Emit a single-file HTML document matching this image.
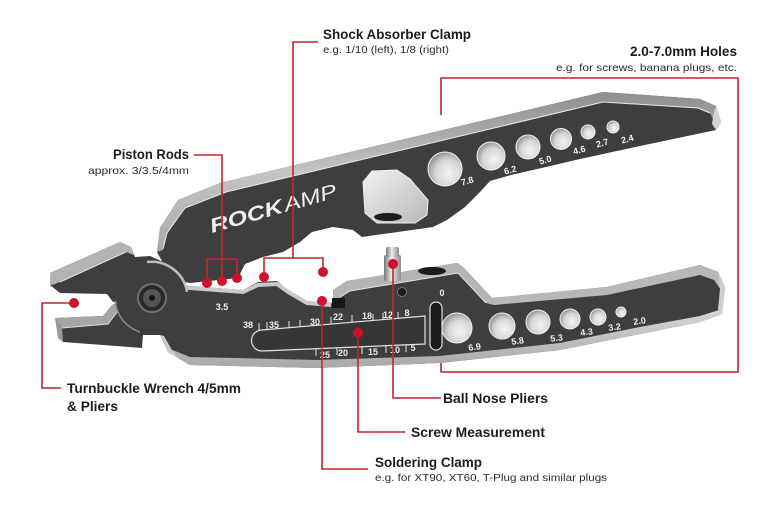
<!DOCTYPE html>
<html><head><meta charset="utf-8"><style>
html,body{margin:0;padding:0;background:#fff;}
svg{display:block;}
.h{font-family:"Liberation Sans",Arial,sans-serif;font-weight:bold;font-size:13.5px;fill:#1c1c1c;}
.s{font-family:"Liberation Sans",Arial,sans-serif;font-size:10.5px;fill:#2a2a2a;}
.t{font-family:"Liberation Sans",Arial,sans-serif;font-weight:bold;font-size:9px;fill:#eeeeee;}
</style></head><body>
<svg width="768" height="516" viewBox="0 0 768 516" xmlns="http://www.w3.org/2000/svg">
<defs>
 <linearGradient id="bevt" x1="0" y1="0" x2="0" y2="1"><stop offset="0" stop-color="#8e8e8e"/><stop offset="0.5" stop-color="#c4c4c4"/><stop offset="1" stop-color="#a9a9a9"/></linearGradient>
 <linearGradient id="bevb" x1="0" y1="0" x2="0" y2="1"><stop offset="0" stop-color="#d8d8d8"/><stop offset="1" stop-color="#a8a8a8"/></linearGradient>
 <radialGradient id="hole" cx="0.6" cy="0.62" r="0.65"><stop offset="0" stop-color="#f4f4f4"/><stop offset="0.6" stop-color="#d6d6d6"/><stop offset="1" stop-color="#8e8e8e"/></radialGradient>
 <linearGradient id="peg" x1="0" y1="0" x2="1" y2="0"><stop offset="0" stop-color="#777"/><stop offset="0.45" stop-color="#ececec"/><stop offset="1" stop-color="#8a8a8a"/></linearGradient>
 <linearGradient id="sq" x1="0" y1="0" x2="1" y2="1"><stop offset="0" stop-color="#f2f2f2"/><stop offset="1" stop-color="#b8b8b8"/></linearGradient>
</defs>
<rect width="768" height="516" fill="#fff"/>

<!-- LOWER PIECE -->
<path d="M55,318 L103,316 L112,305 L125,300 L150,290 L170,283 L190,286 L243,290 L258,282 L277,281 L288,290 L307,301 L333,303 L333,290 L347,281 L457,263 L463,267 L492,298 L607,287 L700,265 L718,272 L725,287 L722,314 L700,322 L640,334 L560,350 L440,363 L317,368 L190,365 L178,358 L168,352 L160,335 L143,335 L142,348 L63,342 Z" fill="#3e3e40"/>
<!-- bottom bevel -->
<path d="M170,349 L190,357 L317,360 L440,356 L560,343 L640,327 L700,316 L722,309 L722,314 L700,322 L640,334 L560,350 L440,363 L317,368 L190,365 L178,358 Z" fill="url(#bevb)"/>
<path d="M160,335 L168,352 L178,358 L172,350 L164,336 Z" fill="#c9c9c9"/>
<!-- lower handle top bevel -->
<path d="M492,298 L607,287 L700,265 L718,272 L725,287 L721,290 L714,280 L700,275 L607,295 L494,305 Z" fill="#b8b8b8"/>
<path d="M718,272 L725,287 L722,314 L718,309 L720,289 Z" fill="#cfcfcf"/>
<!-- block top bevel and step face -->
<path d="M333,290 L347,281 L457,263 L463,267 L492,298 L494,305 L486,303 L458,273 L350,291 L340,298 L333,298 Z" fill="#b4b4b4"/>
<polyline points="340,297 350,291 458,273 486,303" fill="none" stroke="#e4e4e4" stroke-width="1"/>
<rect x="332" y="298" width="13" height="10" fill="#161616"/>
<!-- lower jaw top bevel -->
<path d="M55,318 L103,316 L112,305 L121,302 L118,311 L108,324 L62,328 Z" fill="#a6a6a6"/>
<path d="M55,318 L62,328 L63,342 L58,338 Z" fill="#9a9a9a"/>
<polyline points="62,328 108,324 118,311" fill="none" stroke="#dcdcdc" stroke-width="1"/>
<polyline points="172,286 190,288 243,292 258,285 277,284 288,292 307,303 331,305" fill="none" stroke="#c9c9c9" stroke-width="4"/>

<!-- UPPER ARM -->
<path d="M157,252 L160,228 L178,200 L220,183 L603,92 L700,99 L716,106 L721,122 L716,130 L640,146 L580,159 L546,167 L511,175 L490,181 L480,192 L465,207 L447,220 L433,227 L362,237 L353,230 L333,227 L312,232 L300,242 L283,252 L263,257 L245,264 L238,278 L190,283 L172,280 Z" fill="#3e3e40"/>
<path d="M160,228 L178,200 L220,183 L603,92 L700,99 L716,106 L721,122 L716,125 L710,113 L698,108 L603,102 L226,192 L185,208 L167,233 L163,250 L157,252 Z" fill="url(#bevt)"/>
<polyline points="163,249 167,233 185,208 226,192 603,102 698,108 710,113" fill="none" stroke="#e8e8e8" stroke-width="1"/>
<path d="M716,106 L721,122 L716,130 L712,124 L714,112 Z" fill="#d2d2d2"/>

<!-- UPPER JAW + DISC -->
<path d="M50,273 L120,242 L131,247 L135,257 L150,256 L170,265 L180,290 L150,300 L113,302 L107,294 L60,293 L50,285 Z" fill="#3e3e40"/>
<path d="M50,273 L120,242 L131,247 L134,255 L126,252 L60,282 L52,285 L50,285 Z" fill="#b3b3b3"/>
<polyline points="60,282 126,252" fill="none" stroke="#e2e2e2" stroke-width="1"/>
<circle cx="152" cy="298" r="36" fill="#3e3e40"/>
<path d="M147,262 A36,36 0 0 1 187,292" fill="none" stroke="#bdbdbd" stroke-width="2.5"/>
<path d="M115,301 A36,36 0 0 0 140,332" fill="none" stroke="#8a8a8a" stroke-width="1.5"/>
<circle cx="152" cy="298" r="14" fill="#2a2a2a" stroke="#707070" stroke-width="2"/>
<circle cx="152" cy="298" r="9" fill="#555557"/>
<circle cx="152" cy="298" r="3" fill="#1a1a1a"/>

<!-- square hole -->
<path d="M363,182 L372,171 L397,170 L410,179 L428,200 L427,215 L415,223 L377,223 L365,213 Z" fill="url(#sq)" stroke="#f0f0f0" stroke-width="1"/>
<ellipse cx="388" cy="217" rx="14" ry="4" fill="#1c1c1c"/>

<!-- upper holes -->
<g fill="url(#hole)" stroke="#f2f2f2" stroke-width="1">
<circle cx="445" cy="169" r="17"/><circle cx="491" cy="156" r="14"/><circle cx="528" cy="147" r="12"/>
<circle cx="561" cy="139" r="10.5"/><circle cx="588" cy="132" r="7"/><circle cx="613" cy="127" r="6"/>
</g>
<g class="t" text-anchor="middle">
<text transform="translate(468,184) rotate(-15)">7.8</text>
<text transform="translate(511,173) rotate(-15)">6.2</text>
<text transform="translate(546,163) rotate(-15)">5.0</text>
<text transform="translate(580,153) rotate(-15)">4.6</text>
<text transform="translate(603,146) rotate(-15)">2.7</text>
<text transform="translate(628,142) rotate(-15)">2.4</text>
</g>

<!-- lower holes -->
<g fill="url(#hole)" stroke="#f2f2f2" stroke-width="1">
<circle cx="457" cy="328" r="15"/><circle cx="502" cy="326" r="13"/><circle cx="538" cy="322" r="12"/>
<circle cx="570" cy="319" r="10"/><circle cx="598" cy="317" r="8"/><circle cx="621" cy="312" r="5"/>
</g>
<g class="t" text-anchor="middle">
<text transform="translate(475,350) rotate(-8)">6.9</text>
<text transform="translate(518,344) rotate(-8)">5.8</text>
<text transform="translate(557,341) rotate(-8)">5.3</text>
<text transform="translate(587,335) rotate(-8)">4.3</text>
<text transform="translate(615,330) rotate(-8)">3.2</text>
<text transform="translate(640,324) rotate(-8)">2.0</text>
<text x="442" y="296">0</text>
<text x="222" y="310">3.5</text>
</g>

<!-- scale slot -->
<path d="M262,330 L425,316 L425,344 L262,351 A10.5,10.5 0 0 1 262,330 Z" fill="#363638" stroke="#e2e2e2" stroke-width="1.2"/>
<rect x="430" y="302" width="12" height="48" rx="6" fill="#1a1a1a" stroke="#e2e2e2" stroke-width="1.2"/>
<g stroke="#e6e6e6" stroke-width="1">
<line x1="259" y1="330" x2="259" y2="323"/><line x1="267" y1="329" x2="267" y2="322"/>
<line x1="289" y1="328" x2="289" y2="321"/><line x1="300" y1="327" x2="300" y2="320"/>
<line x1="331" y1="324" x2="331" y2="317"/><line x1="352" y1="322" x2="352" y2="315"/>
<line x1="373" y1="321" x2="373" y2="314"/><line x1="383" y1="320" x2="383" y2="313"/>
<line x1="398" y1="319" x2="398" y2="312"/>
<line x1="316" y1="349" x2="316" y2="356"/><line x1="337" y1="348" x2="337" y2="355"/>
<line x1="362" y1="347" x2="362" y2="354"/><line x1="386" y1="346" x2="386" y2="353"/>
<line x1="406" y1="345" x2="406" y2="352"/>
</g>
<g class="t" text-anchor="middle">
<text x="248" y="328">38</text><text x="274" y="328">35</text><text x="315" y="325">30</text>
<text x="338" y="320">22</text><text x="367" y="319">18</text><text x="388" y="318">12</text><text x="407" y="316">8</text>
<text x="325" y="358">25</text><text x="343" y="356">20</text><text x="373" y="355">15</text>
<text x="395" y="353">10</text><text x="413" y="351">5</text>
</g>

<!-- block details -->
<ellipse cx="432" cy="271" rx="14" ry="4" fill="#1a1a1a"/>
<circle cx="402" cy="292" r="4.5" fill="#1a1a1a" stroke="#777" stroke-width="1"/>
<rect x="384" y="255" width="17" height="26" rx="2" fill="url(#peg)"/>
<rect x="386" y="247" width="13" height="10" rx="2" fill="url(#peg)"/>

<!-- ROCKAMP logo -->
<g transform="rotate(-16 212 233)">
<text x="212" y="233" font-family="Liberation Sans, Arial, sans-serif" font-weight="bold" font-style="italic" font-size="20" fill="#eeeeee" textLength="75" lengthAdjust="spacingAndGlyphs">ROCK</text>
<text x="289" y="233" font-family="Liberation Sans, Arial, sans-serif" font-style="italic" font-size="20" fill="#eeeeee" textLength="54" lengthAdjust="spacingAndGlyphs">AMP</text>
</g>

<!-- RED CONNECTORS -->
<g fill="none" stroke="#c0262d" stroke-width="1.6">
<path d="M318,42 H293 V258"/>
<path d="M264,277 V258 H323 V272"/>
<path d="M194,155 H222 V281"/>
<path d="M207,283 V259 H237 V278"/>
<path d="M441,115 V78 H738 V372 H441 V363"/>
<path d="M74,303 H42 V388 H61"/>
<path d="M393,264 V398 H441"/>
<path d="M358,333 V432 H405"/>
<path d="M322,301 V469 H368"/>
</g>
<g fill="#d0112b">
<circle cx="264" cy="277" r="5"/><circle cx="323" cy="272" r="5"/>
<circle cx="207" cy="283" r="5"/><circle cx="222" cy="281" r="5"/><circle cx="237" cy="278" r="5"/>
<circle cx="74" cy="303" r="5"/><circle cx="393" cy="264" r="5"/>
<circle cx="358" cy="333" r="5"/><circle cx="322" cy="301" r="5"/>
</g>

<!-- LABELS -->
<text class="h" x="323" y="39" textLength="148" lengthAdjust="spacingAndGlyphs">Shock Absorber Clamp</text>
<text class="s" x="323" y="53" textLength="126" lengthAdjust="spacingAndGlyphs">e.g. 1/10 (left), 1/8 (right)</text>
<text class="h" x="630" y="56" textLength="107" lengthAdjust="spacingAndGlyphs">2.0-7.0mm Holes</text>
<text class="s" x="556" y="71" textLength="181" lengthAdjust="spacingAndGlyphs">e.g. for screws, banana plugs, etc.</text>
<text class="h" x="113" y="159" textLength="76" lengthAdjust="spacingAndGlyphs">Piston Rods</text>
<text class="s" x="88" y="174" textLength="101" lengthAdjust="spacingAndGlyphs">approx. 3/3.5/4mm</text>
<text class="h" x="67" y="393" textLength="174" lengthAdjust="spacingAndGlyphs">Turnbuckle Wrench 4/5mm</text>
<text class="h" x="67" y="411" textLength="51" lengthAdjust="spacingAndGlyphs">&amp; Pliers</text>
<text class="h" x="443" y="403" textLength="105" lengthAdjust="spacingAndGlyphs">Ball Nose Pliers</text>
<text class="h" x="411" y="437" textLength="134" lengthAdjust="spacingAndGlyphs">Screw Measurement</text>
<text class="h" x="375" y="467" textLength="107" lengthAdjust="spacingAndGlyphs">Soldering Clamp</text>
<text class="s" x="375" y="481" textLength="232" lengthAdjust="spacingAndGlyphs">e.g. for XT90, XT60, T-Plug and similar plugs</text>
</svg>
</body></html>
